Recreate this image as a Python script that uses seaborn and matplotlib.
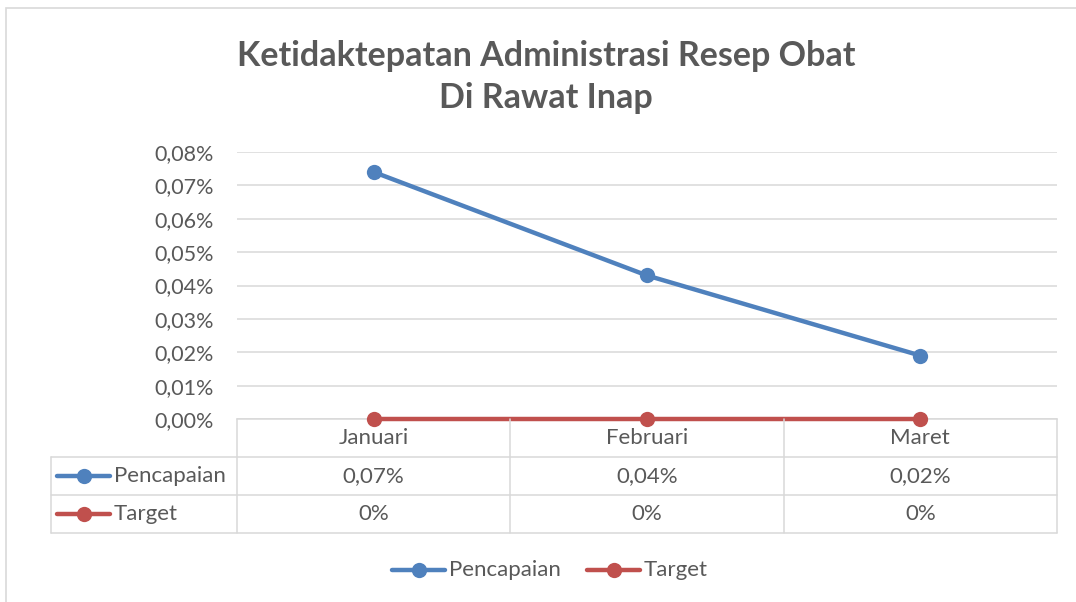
import matplotlib
matplotlib.use("Agg")
import matplotlib.pyplot as plt
import matplotlib.transforms as mtransforms
from matplotlib.lines import Line2D
from matplotlib.patches import Rectangle
import pandas as pd
import seaborn as sns

# ---- data ----
months = ["Januari", "Februari", "Maret"]
pencapaian = [0.074, 0.043, 0.019]   # percent
target = [0.0, 0.0, 0.0]             # percent
pencapaian_labels = ["0,07%", "0,04%", "0,02%"]
target_labels = ["0%", "0%", "0%"]
series_names = ["Pencapaian", "Target"]
yticks = [0.00, 0.01, 0.02, 0.03, 0.04, 0.05, 0.06, 0.07, 0.08]
ytick_labels = ["0,00%", "0,01%", "0,02%", "0,03%", "0,04%", "0,05%", "0,06%", "0,07%", "0,08%"]
title = "Ketidaktepatan Administrasi Resep Obat\nDi Rawat Inap"

colors = {"Pencapaian": "#4F81BD", "Target": "#C0504D"}
text_color = "#595959"
grid_color = "#D9D9D9"

df = pd.DataFrame({
    "month": months * 2,
    "x": list(range(len(months))) * 2,
    "value": pencapaian + target,
    "series": ["Pencapaian"] * 3 + ["Target"] * 3,
})

sns.set_theme(style="white")
plt.rcParams["font.family"] = ["Lato", "DejaVu Sans"]

W, H = 1076, 602
fig = plt.figure(figsize=(W / 100, H / 100), dpi=100)

def fx(px):
    return px / W

def fy(py):
    return 1 - py / H

# outer chart border
fig.patches.append(Rectangle((fx(6), fy(H + 5)), fx(W + 10), fy(8) - fy(H + 5),
                             transform=fig.transFigure, fill=False,
                             edgecolor="#D9D9D9", linewidth=1.2))

ax = fig.add_axes([fx(237), fy(419), fx(1057) - fx(237), fy(152) - fy(419)])

sns.lineplot(data=df, x="x", y="value", hue="series", palette=colors,
             marker="o", markersize=11, markeredgewidth=0, linewidth=3.2,
             legend=False, ax=ax, zorder=5, clip_on=False)

ax.set_xlim(-0.5, 2.5)
ax.set_ylim(0, 0.08)
ax.set_yticks(yticks)
ax.set_yticklabels(ytick_labels, fontsize=15.5, color=text_color)
ax.tick_params(axis="y", length=0, pad=17)
ax.set_xticks([])
ax.set_xlabel("")
ax.set_ylabel("")
ax.grid(axis="y", color=grid_color, linewidth=1.1)
ax.set_axisbelow(True)
for s in ["top", "right", "left"]:
    ax.spines[s].set_visible(False)
ax.spines["bottom"].set_color(grid_color)
ax.spines["bottom"].set_linewidth(1.1)

# ---- data table ----
trans = mtransforms.blended_transform_factory(ax.transData, fig.transFigure)
lc = grid_color
lw = 1.1
row_y = [419, 457, 495, 533]
col_x = [-0.5, 0.5, 1.5, 2.5]
left_px = 51
for cx in col_x:
    fig.add_artist(Line2D([cx, cx], [fy(419), fy(533)], transform=trans, color=lc, linewidth=lw))
for ry in row_y[1:]:
    fig.add_artist(Line2D([fx(left_px), fx(1057)], [fy(ry), fy(ry)], transform=fig.transFigure, color=lc, linewidth=lw))
fig.add_artist(Line2D([fx(left_px), fx(left_px)], [fy(457), fy(533)], transform=fig.transFigure, color=lc, linewidth=lw))

fs = 16
for i, m in enumerate(months):
    fig.text(i, fy(438), m, transform=trans, ha="center", va="center", fontsize=fs, color=text_color)
    fig.text(i, fy(476), pencapaian_labels[i], transform=trans, ha="center", va="center", fontsize=fs, color=text_color)
    fig.text(i, fy(514), target_labels[i], transform=trans, ha="center", va="center", fontsize=fs, color=text_color)

def key(x0, yc, color):
    fig.add_artist(Line2D([fx(x0), fx(x0 + 53)], [fy(yc), fy(yc)], transform=fig.transFigure,
                          color=color, linewidth=3.2, solid_capstyle="round"))
    fig.add_artist(Line2D([fx(x0 + 27)], [fy(yc)], transform=fig.transFigure, marker="o",
                          markersize=11, markeredgewidth=0, color=color))

for name, yc in zip(series_names, [476, 514]):
    key(57, yc, colors[name])
    fig.text(fx(114), fy(yc), name, ha="left", va="center", fontsize=fs, color=text_color)

# ---- bottom legend ----
leg_pos = {"Pencapaian": 392, "Target": 587}
for name in series_names:
    key(leg_pos[name], 570, colors[name])
    fig.text(fx(leg_pos[name] + 57), fy(570), name, ha="left", va="center", fontsize=fs, color=text_color)

# ---- title ----
fig.text(fx(546), fy(77), title, ha="center", va="center", fontsize=24.5, fontweight="bold",
         color=text_color, linespacing=1.38)

fig.savefig("out.png", dpi=100, facecolor="white")
